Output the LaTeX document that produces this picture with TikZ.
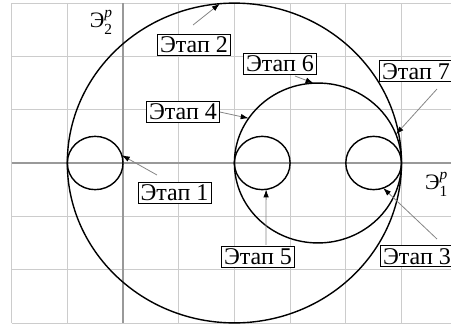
\documentclass[tikz,border=0pt]{standalone}
\usepackage{fontspec}
\usepackage{amsmath}
\setmainfont{Liberation Serif}
\usetikzlibrary{arrows.meta,calc}
\definecolor{gridc}{HTML}{CCCCCC}
\definecolor{axisc}{HTML}{999999}
\definecolor{leadc}{HTML}{858585}
\tikzset{
  gridline/.style={draw=gridc, line width=0.8pt},
  axisline/.style={draw=axisc, line width=1.6pt},
  curve/.style={draw=black, line width=1.4pt},
  stagebox/.style={draw=black, line width=0.8pt, fill=white, inner xsep=2.5pt, inner ysep=2.5pt,
    font=\fontsize{24}{24}\selectfont, text height=16pt, text depth=0pt},
  leader/.style={draw=leadc, line width=0.8pt, -{Latex[color=black,length=8pt,width=5.5pt]}},
  axlabel/.style={font=\fontsize{22}{22}\selectfont, inner sep=0pt}
}
\begin{document}
\begin{tikzpicture}[x=55.7pt, y=53.3pt]
\useasboundingbox (-2.2083,-3.0394) rectangle (5.8887,3.0582);
% grid
\foreach \gx in {-2,-1,1,2,3,4,5} {\draw[gridline] (\gx,-3) -- (\gx,3);}
\foreach \gy in {-3,-2,-1,1,2,3} {\draw[gridline] (-2,\gy) -- (5.8887,\gy);}
\draw[axisline] (-2,0) -- (5.8887,0);
\draw[axisline] (0,-3) -- (0,3);
% circles
\coordinate (cA) at (-0.5,0);
\coordinate (cB) at (2,0);
\coordinate (cC) at (2.5,0);
\coordinate (cD) at (3.5,0);
\coordinate (cE) at (4.5,0);
\draw[curve] (cA) circle (0.5);
\draw[curve] (cB) circle (3);
\draw[curve] (cC) circle (0.5);
\draw[curve] (cD) circle (1.5);
\draw[curve] (cE) circle (0.5);
% axis labels
\node[axlabel] (e2) at (-0.39,2.64) {Э$_{\text{2}}^{\textit{p}}$};
\node[axlabel, anchor=west] (e1) at (5.42,-0.40) {Э$_{\text{1}}^{\textit{p}}$};
% stage boxes
\node[stagebox] (s1) at (0.925,-0.553) {Этап 1};
\node[stagebox] (s2) at (1.275,2.214) {Этап 2};
\node[stagebox] (s3) at (5.278,-1.745) {Этап 3};
\node[stagebox] (s4) at (1.077,0.957) {Этап 4};
\node[stagebox] (s5) at (2.424,-1.754) {Этап 5};
\node[stagebox] (s6) at (2.819,1.867) {Этап 6};
\node[stagebox] (s7) at (5.26,1.726) {Этап 7};
% leader start points
\coordinate (a1) at (0.610,-0.225);
\coordinate (a2) at (1.257,2.589);
\coordinate (a3) at (5.637,-1.426);
\coordinate (a5) at (2.567,-1.538);
\coordinate (a6) at (3.088,1.632);
\coordinate (a7) at (5.637,1.388);
% leader targets on the curves
\coordinate (t1) at ($(cA)+(17:0.5)$);
\coordinate (t2) at ($(cB)+(95:3)$);
\coordinate (t3) at ($(cE)+(-70:0.5)$);
\coordinate (t4) at ($(cD)+(146:1.5)$);
\coordinate (t5) at ($(cC)+(-82:0.5)$);
\coordinate (t6) at ($(cD)+(93:1.5)$);
\coordinate (t7) at ($(cD)+(21:1.5)$);
\draw[leader] (a1) -- (t1);
\draw[leader] (a2) -- (t2);
\draw[leader] (a3) -- (t3);
\draw[leader] (s4.east) -- (t4);
\draw[leader] (a5) -- (t5);
\draw[leader] (a6) -- (t6);
\draw[leader] (a7) -- (t7);
\end{tikzpicture}
\end{document}
